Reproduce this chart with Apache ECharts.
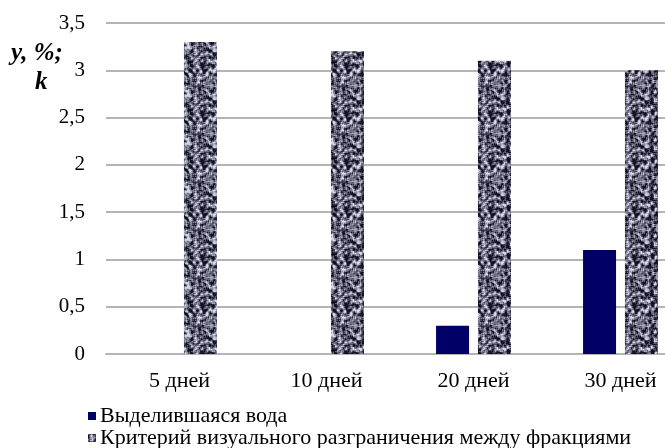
<!DOCTYPE html>
<html><head><meta charset="utf-8">
<script src="https://cdn.jsdelivr.net/npm/echarts@6/dist/echarts.min.js"></script>
<style>html,body{margin:0;padding:0;background:#fff;overflow:hidden}#c{width:720px;height:448px}</style>
</head><body><div id="c"></div>
<script>
const categories = ['5 дней', '10 дней', '20 дней', '30 дней'];
const waterValues = [0, 0, 0.3, 1.1];
const criterionValues = [3.3, 3.2, 3.1, 3.0];
const seriesNames = ['Выделившаяся вода', 'Критерий визуального разграничения между фракциями'];
const yTicks = [0, 0.5, 1, 1.5, 2, 2.5, 3, 3.5];

// granite-like texture (deterministic)
function makeTexture() {
  const c = document.createElement('canvas');
  const S = 48; c.width = S; c.height = S;
  const ctx = c.getContext('2d');
  let seed = 12345;
  const rnd = () => { seed = (seed * 1103515245 + 12345) & 0x7fffffff; return seed / 0x7fffffff; };
  const g = [];
  for (let i = 0; i < S * S; i++) g.push(rnd());
  const img = ctx.createImageData(S, S);
  for (let y = 0; y < S; y++) for (let x = 0; x < S; x++) {
    let s = 0;
    for (let dy = -1; dy <= 1; dy++) for (let dx = -1; dx <= 1; dx++) {
      s += g[((y + dy + S) % S) * S + ((x + dx + S) % S)];
    }
    s /= 9;
    let v = (s - 0.5) * 3.2 + 0.42;
    v = Math.max(0, Math.min(1, v));
    const b = Math.round(15 + v * 200);
    const i = (y * S + x) * 4;
    img.data[i] = b; img.data[i + 1] = b; img.data[i + 2] = Math.min(255, b + 18); img.data[i + 3] = 255;
  }
  ctx.putImageData(img, 0, 0);
  return c;
}
const tex = makeTexture();

const chart = echarts.init(document.getElementById('c'), null, {renderer: 'canvas'});
const font = '"Liberation Serif", "Times New Roman", serif';
const legendBase = {
  orient: 'vertical', left: 88, itemWidth: 8, itemHeight: 8, itemGap: 0, padding: 0,
  icon: 'rect', itemStyle: {borderWidth: 0},
  textStyle: {color: '#000', fontSize: 22, lineHeight: 22, fontFamily: font, padding: [0, 0, 0, -1]}
};
chart.setOption({
  animation: false,
  textStyle: {fontFamily: font},
  grid: {left: 106, top: 23, width: 588, height: 331, containLabel: false},
  xAxis: {
    type: 'category', data: categories,
    axisLine: {lineStyle: {color: '#b4b4b4', width: 2}},
    axisTick: {show: false},
    axisLabel: {color: '#000', fontSize: 22, fontFamily: font, margin: 16}
  },
  yAxis: {
    type: 'value', min: yTicks[0], max: yTicks[yTicks.length - 1], interval: 0.5,
    axisLine: {show: false}, axisTick: {show: false},
    splitLine: {lineStyle: {color: '#b4b4b4', width: 2}},
    axisLabel: {color: '#000', fontSize: 21, fontFamily: font, margin: 21,
      formatter: v => String(v).replace('.', ',')}
  },
  legend: [
    Object.assign({}, legendBase, {top: 405, data: [seriesNames[0]]}),
    Object.assign({}, legendBase, {top: 427, data: [seriesNames[1]]})
  ],
  graphic: [
    {type: 'text', left: 11, top: 41, style: {text: 'y, %;', font: 'bold italic 25px ' + font, fill: '#000'}},
    {type: 'text', left: 35, top: 70, style: {text: 'k', font: 'bold italic 25px ' + font, fill: '#000'}}
  ],
  series: [
    {name: seriesNames[0], type: 'bar', data: waterValues, barWidth: 33, barGap: '27%',
      itemStyle: {color: '#000066'}},
    {name: seriesNames[1], type: 'bar', data: criterionValues, barWidth: 33,
      itemStyle: {color: {image: tex, repeat: 'repeat'}}}
  ]
});
</script></body></html>
